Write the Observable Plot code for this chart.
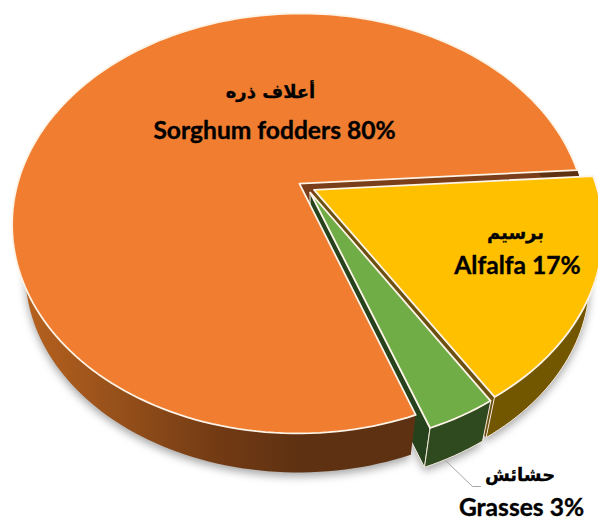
<!DOCTYPE html>
<html>
<head>
<meta charset="utf-8">
<script src="https://cdn.jsdelivr.net/npm/d3@7"></script>
<script src="https://cdn.jsdelivr.net/npm/@observablehq/plot@0.6"></script>
<style>html,body{margin:0;padding:0;background:#fff}svg{display:block}</style>
</head>
<body>
<div id="chart"></div>
<script>
const categories = ["Sorghum fodders", "Alfalfa", "Grasses"];
const arabicNames = ["أعلاف ذره", "برسيم", "حشائش"];
const shares = [79.5, 17.2, 3.3];
const topColors = ["#f07d30", "#ffc000", "#70ad47"];
const rimColors = ["url(#orangeRim)", "#735700", "#2f4a1f"];
const wallColors = ["#7a3f1a", "#6b5010", "#25421c"];

const W = 598, H = 521;
const cx = 306, cy = 186.5, fx = 282.7, fy = 203.7;
const tilt = 0.19, explode = 0.03, shrink = 0.955, lift = 0.246, firstAngle = 159.9;
const rad = Math.PI / 180;

let acc = firstAngle;
const slices = categories.map((name, i) => {
  const a0 = acc, a1 = acc + shares[i] * 3.6;
  acc = a1;
  return {name, i, a0, a1, mid: (a0 + a1) / 2};
});

function project(s, r, a, bottom) {
  const X = r * Math.sin(a * rad) + explode * Math.sin(s.mid * rad);
  const Z = r * Math.cos(a * rad) + explode * Math.cos(s.mid * rad);
  const q = 1 + tilt * Z;
  const x = X / q, y = Z / q;
  return bottom ? {x: x * shrink, y: y * shrink - lift} : {x, y};
}
function arc(s, a0, a1, bottom) {
  const n = Math.max(2, Math.ceil(Math.abs(a1 - a0) / 1.5));
  return d3.range(n + 1).map(k => project(s, 1, a0 + (a1 - a0) * k / n, bottom));
}
const face = (s, bottom) => [project(s, 0, s.a0, bottom), ...arc(s, s.a0, s.a1, bottom)];
const rim = (s, a0, a1) => [...arc(s, a0, a1, false), ...arc(s, a1, a0, true)];
const wall = (s, a) => [project(s, 0, a, false), project(s, 1, a, false), project(s, 1, a, true), project(s, 0, a, true)];

const [sorghum, alfalfa, grasses] = slices;
const poly = (points, fill, opts = {}) => Plot.line(points, {
  x: "x", y: "y", fill, curve: "linear-closed",
  stroke: "none", strokeLinejoin: "round", ...opts
});
const edge = {stroke: "#fdf3e6", strokeWidth: 1.8};
const thin = {stroke: "#f4e9dc", strokeWidth: 1};

const ux = p => (p - cx) / fx;
const uy = p => (cy - p) / fy;
const arabicAnchors = [[270, 92], [515, 233], [519.5, 475]];
const latinAnchors = [[274, 131], [517, 266], [521, 508]];
const arabicRows = categories.map((c, i) => ({text: arabicNames[i], x: ux(arabicAnchors[i][0]), y: uy(arabicAnchors[i][1])}));
const latinRows = categories.map((c, i) => ({text: `${c} ${Math.round(shares[i])}%`, x: ux(latinAnchors[i][0]), y: uy(latinAnchors[i][1])}));

const leaderStart = project(grasses, 1, grasses.mid + 2, true);
const leader = [leaderStart, {x: ux(472), y: uy(486)}, {x: ux(480), y: uy(486)}];

const defs = () => {
  const d = d3.create("svg:defs");
  const g = d.append("linearGradient").attr("id", "orangeRim").attr("gradientUnits", "userSpaceOnUse")
    .attr("x1", 20).attr("x2", 300).attr("y1", 0).attr("y2", 0);
  [[0, "#b8621f"], [0.35, "#96501a"], [0.7, "#733b14"], [1, "#5e3112"]].forEach(([o, c]) =>
    g.append("stop").attr("offset", o).attr("stop-color", c));
  return d.node();
};

const chart = Plot.plot({
  width: W, height: H, margin: 0,
  x: {type: "linear", domain: [ux(0), ux(W)], range: [0, W], axis: null},
  y: {type: "linear", domain: [uy(0), uy(H)], range: [0, H], axis: null},
  marks: [
    defs,
    ...slices.map(s => poly(face(s, true), "#6b6b6b", {opacity: 0.6, imageFilter: "blur(4px)", dy: 4})),
    poly(wall(sorghum, sorghum.a1), wallColors[0]),
    poly(wall(alfalfa, alfalfa.a1), wallColors[1]),
    poly(wall(grasses, grasses.a1), wallColors[2], thin),
    poly(rim(alfalfa, alfalfa.a0, alfalfa.a1), rimColors[1], thin),
    poly(rim(grasses, grasses.a0, grasses.a1), rimColors[2], thin),
    poly(rim(sorghum, sorghum.a0, 450), rimColors[0]),
    poly(rim(sorghum, 450, sorghum.a1), rimColors[0]),
    Plot.line(leader, {x: "x", y: "y", stroke: "#a6a6a6", strokeWidth: 1}),
    poly(face(alfalfa, false), topColors[1], edge),
    poly(face(grasses, false), topColors[2], edge),
    poly(face(sorghum, false), topColors[0], edge),
    Plot.text(arabicRows, {x: "x", y: "y", text: "text", fontFamily: "'DejaVu Sans'", fontWeight: "bold", fontSize: 18, fill: "#000", stroke: "#000", strokeWidth: 0.3}),
    Plot.text(latinRows, {x: "x", y: "y", text: "text", fontFamily: "Lato", fontWeight: "bold", fontSize: 24.6, fill: "#000", stroke: "#000", strokeWidth: 0.35})
  ]
});
document.getElementById("chart").appendChild(chart);
</script>
</body>
</html>
